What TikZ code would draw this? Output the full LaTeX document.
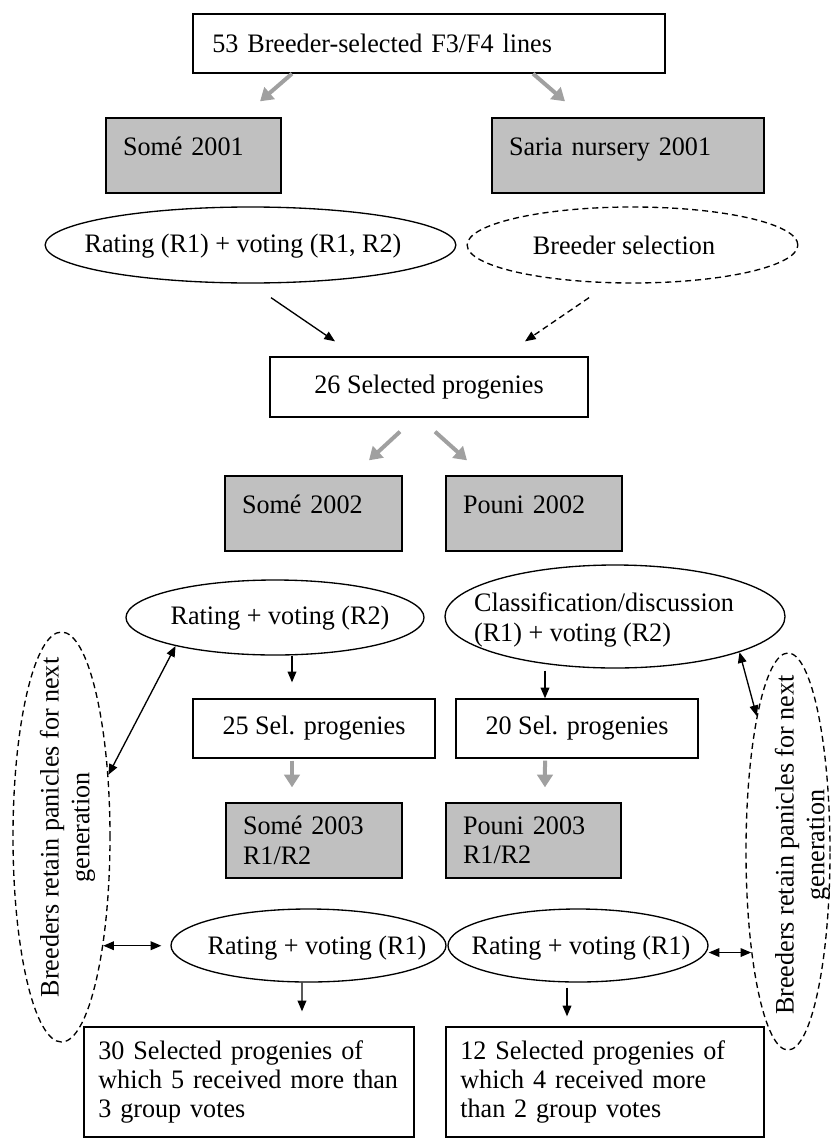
\documentclass[tikz,border=0pt]{standalone}
\usepackage{fontspec}
\setmainfont{Liberation Serif}[FakeStretch=0.98]
\usetikzlibrary{shapes.geometric, arrows.meta}
\definecolor{boxgray}{RGB}{192,192,192}
\definecolor{arrowgray}{RGB}{160,160,160}

\begin{document}
\begin{tikzpicture}[
    x=0.75pt, y=-0.75pt,
    font=\fontsize{20}{22}\selectfont,
    box/.style={rectangle, draw, line width=1pt, inner xsep=12.75pt, inner ysep=4pt},
    greybox/.style={box, fill=boxgray, minimum height=56.25pt, align=left},
    onerow/.style={text height=15pt, text depth=15pt},
    oval/.style={ellipse, draw, line width=1pt, inner sep=0pt},
    dashoval/.style={oval, dash pattern=on 4.5pt off 3pt},
    txt/.style={inner sep=0pt},
    flow/.style={-{Triangle[length=8pt, width=6.5pt]}, line width=1pt},
    twoway/.style={{Triangle[length=8pt, width=6.5pt]}-{Triangle[length=8pt, width=6.5pt]}, line width=1pt},
    fat/.style={-{Triangle[length=9.5pt, width=11.5pt]}, line width=3pt, draw=arrowgray, fill=arrowgray}
]
\useasboundingbox (0,0) rectangle (832,1138);

% Season 2001
\node[box, minimum width=354pt, minimum height=44.25pt, text width=325pt, align=left] (lines) at (429,43.5) {53 Breeder-selected F3/F4 lines};
\node[greybox, onerow, minimum width=131.25pt, text width=105.75pt] (some01) at (193.5,155.5) {Somé 2001};
\node[greybox, onerow, minimum width=204pt, text width=178.5pt] (saria01) at (628,155.5) {Saria nursery 2001};
\node[oval, minimum width=308pt, minimum height=57pt] (rate01) at (250.5,245) {};
\node[txt] (rate01t) at (243,246) {Rating (R1) + voting (R1, R2)};
\node[dashoval, minimum width=248pt, minimum height=57pt] (breed01) at (632.5,245) {};
\node[txt] (breed01t) at (624,245) {Breeder selection};
\node[box, minimum width=238.5pt, minimum height=45pt, align=center] (sel26) at (429,387) {26 Selected progenies};

% Season 2002
\node[greybox, onerow, minimum width=132.75pt, text width=107.25pt] (some02) at (313.5,513.5) {Somé 2002};
\node[greybox, onerow, minimum width=132pt, text width=106.5pt] (pouni02) at (534,513.5) {Pouni 2002};
\node[oval, minimum width=223.5pt, minimum height=56.25pt] (rate02) at (275,617.5) {};
\node[txt] (rate02t) at (280,618) {Rating + voting (R2)};
\node[oval, minimum width=255pt, minimum height=77.25pt] (class02) at (615,616.5) {};
\node[txt, align=left] (class02t) at (604,620) {Classification/discussion\\(R1) + voting (R2)};
\node[box, minimum width=181.5pt, minimum height=44.25pt] (sel25) at (314,728.5) {25 Sel. progenies};
\node[box, minimum width=181.5pt, minimum height=44.25pt] (sel20) at (577,728.5) {20 Sel. progenies};

% Season 2003
\node[greybox, minimum width=132pt, text width=106.5pt] (some03) at (314,840.5) {Somé 2003\\R1/R2};
\node[greybox, minimum width=131.25pt, text width=105.75pt] (pouni03) at (533.5,840.5) {Pouni 2003\\R1/R2};
\node[oval, minimum width=206.25pt, minimum height=54.75pt] (rate03a) at (308.5,945.5) {};
\node[txt] (rate03at) at (317,948) {Rating + voting (R1)};
\node[oval, minimum width=195pt, minimum height=54.75pt] (rate03b) at (578,945.5) {};
\node[txt] (rate03bt) at (581,948) {Rating + voting (R1)};
\node[box, minimum width=247.5pt, minimum height=82.5pt, text width=226pt, inner xsep=10.75pt, align=left] (final30) at (249,1082) {30 Selected progenies of\\which 5 received more than\\3 group votes};
\node[box, minimum width=238.5pt, minimum height=82.5pt, text width=217pt, inner xsep=10.75pt, align=left] (final12) at (605,1082) {12 Selected progenies of\\which 4 received more\\than 2 group votes};

% Panicles kept by breeders
\node[dashoval, minimum width=72.75pt, minimum height=307.5pt] (keepL) at (61.5,837) {};
\node[txt, rotate=90, align=center, font=\fontsize{20}{23}\selectfont] (keepLt) at (67.5,827.5) {Breeders retain panicles for next\\generation};
\node[dashoval, minimum width=63pt, minimum height=297.75pt] (keepR) at (788,851.5) {};
\node[txt, rotate=90, align=center, font=\fontsize{20}{23}\selectfont] (keepRt) at (802.5,845) {Breeders retain panicles for next\\generation};

% Grey arrows
\draw[fat] ([xshift=-102.75pt]lines.south) -- ([shift={(49.9pt,12pt)}]some01.north);
\draw[fat] ([xshift=78pt]lines.south) -- ([shift={(-47.25pt,12pt)}]saria01.north);
\draw[fat] ([shift={(-21.75pt,-10.5pt)}]sel26.south) -- ([shift={(41.6pt,11.25pt)}]some02.north);
\draw[fat] ([shift={(4.5pt,-10.5pt)}]sel26.south) -- ([shift={(-50.25pt,11.25pt)}]pouni02.north);
\draw[fat] ([shift={(-16.5pt,-1.5pt)}]sel25.south) -- ([shift={(-16.5pt,11.25pt)}]some03.north);
\draw[fat] ([shift={(-24pt,-1.5pt)}]sel20.south) -- ([shift={(8.6pt,11.25pt)}]pouni03.north);

% Black arrows
\draw[flow] ([shift={(15.4pt,-10.5pt)}]rate01.south) -- ([shift={(-70.5pt,11.25pt)}]sel26.north);
\draw[flow, dash pattern=on 4.5pt off 3pt] ([shift={(-32.6pt,-10.5pt)}]breed01.south) -- ([shift={(72pt,11.25pt)}]sel26.north);
\draw[flow] ([xshift=12.75pt]rate02.south) -- ([shift={(-16.5pt,12pt)}]sel25.north);
\draw[flow] ([shift={(-52.5pt,-1.5pt)}]class02.south) -- ([xshift=-24pt]sel20.north);
\draw[flow] ([xshift=-4.9pt]rate03a.south) -- ([shift={(39.75pt,11.25pt)}]final30.north);
\draw[flow] ([shift={(-8.25pt,-3.75pt)}]rate03b.south) -- ([shift={(-28.5pt,7.5pt)}]final12.north);

% Two-way arrows
\draw[twoway] (rate02.196) -- (keepL.53);
\draw[twoway] (class02.344) -- (keepR.103);
\draw[twoway, shorten >=6.75pt] (keepL.291) -- (keepL.291 -| rate03a.west);
\draw[twoway] (keepR.250 -| rate03b.east) -- (keepR.250);
\end{tikzpicture}
\end{document}
